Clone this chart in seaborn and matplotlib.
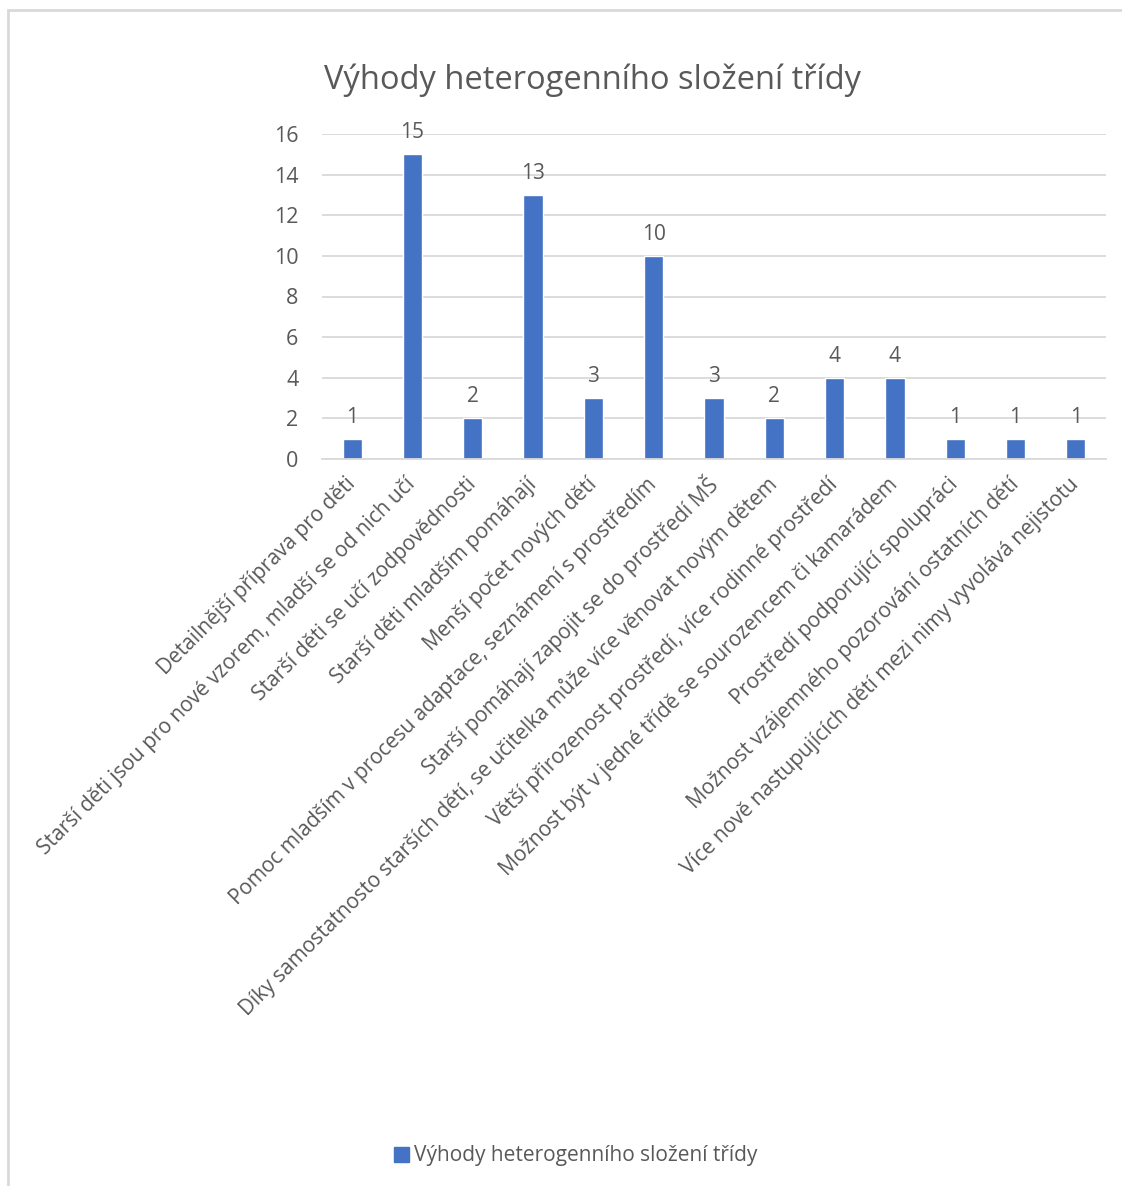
import matplotlib
matplotlib.use("Agg")
import matplotlib.pyplot as plt
import matplotlib.patches as mpatches
import seaborn as sns
import pandas as pd

categories = [
    "Detailnější příprava pro děti",
    "Starší děti jsou pro nové vzorem, mladší se od nich učí",
    "Starší děti se učí zodpovědnosti",
    "Starší děti mladším pomáhají",
    "Menší počet nových dětí",
    "Pomoc mladším v procesu adaptace, seznámení s prostředím",
    "Starší pomáhají zapojit se do prostředí MŠ",
    "Díky samostatnosto starších dětí, se učitelka může více věnovat novým dětem",
    "Větší přirozenost prostředí, více rodinné prostředí",
    "Možnost být v jedné třídě se sourozencem či kamarádem",
    "Prostředí podporující spolupráci",
    "Možnost vzájemného pozorování ostatních dětí",
    "Více nově nastupujících dětí mezi nimy vyvolává nejistotu",
]
values = [1, 15, 2, 13, 3, 10, 3, 2, 4, 4, 1, 1, 1]
series_name = "Výhody heterogenního složení třídy"
y_ticks = [0, 2, 4, 6, 8, 10, 12, 14, 16]

BAR = "#4472C4"
TEXT = "#595959"
GRID = "#D9D9D9"

sns.set_theme(style="white")
plt.rcParams["font.family"] = ["Open Sans", "DejaVu Sans"]

df = pd.DataFrame({"kategorie": categories, "počet": values})

W, H = 1122, 1186
fig = plt.figure(figsize=(W / 100, H / 100), dpi=100)
ax = fig.add_axes([322 / W, 1 - 459 / H, (1106 - 322) / W, (459 - 134) / H])

sns.barplot(data=df, x="kategorie", y="počet", color=BAR, width=0.32,
            saturation=1, ax=ax)

ax.set_ylim(0, 16)
ax.set_xlim(-0.5, len(categories) - 0.5)
ax.set_yticks(y_ticks)
ax.yaxis.grid(True, color=GRID, linewidth=1.3)
ax.set_axisbelow(True)
for s in ["top", "right", "left"]:
    ax.spines[s].set_visible(False)
ax.spines["bottom"].set_color(GRID)
ax.spines["bottom"].set_linewidth(1.3)
ax.set_xlabel("")
ax.set_ylabel("")
ax.tick_params(axis="y", length=0, pad=17, labelsize=15.5, labelcolor=TEXT)
ax.tick_params(axis="x", length=0, pad=16, labelsize=15, labelcolor=TEXT)
ax.set_xticks(range(len(categories)))
ax.set_xticklabels(categories, rotation=45, ha="right", va="center",
                   rotation_mode="anchor")

for c in ax.containers:
    ax.bar_label(c, labels=[str(v) for v in values], padding=8,
                 fontsize=15, color=TEXT)

fig.text(592 / W, 1 - 80 / H, series_name, ha="center", va="center",
         fontsize=23.5, color=TEXT)

handle = mpatches.Patch(color=BAR, label=series_name)
fig.legend(handles=[handle], loc="center", bbox_to_anchor=(576 / W, 1 - 1156 / H),
           frameon=False, fontsize=15, labelcolor=TEXT, handlelength=0.7,
           handleheight=0.7, handletextpad=0.25)

# outer chart frame
fig.add_artist(mpatches.Rectangle((8 / W, -0.05), 1.1, 1 - 10 / H + 0.05,
                                  transform=fig.transFigure, fill=False,
                                  edgecolor=GRID, linewidth=2))

fig.savefig("out.png", dpi=100, facecolor="white")
